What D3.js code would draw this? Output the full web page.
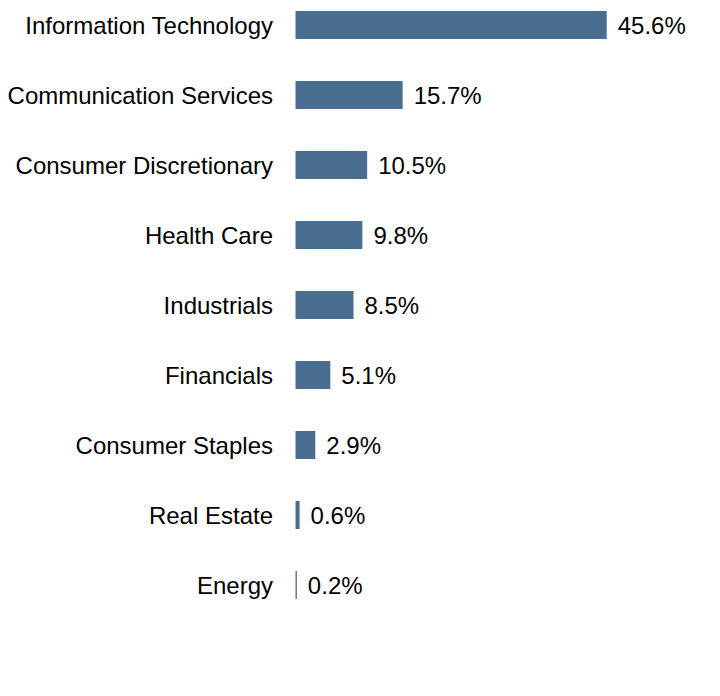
<!DOCTYPE html>
<html><head><meta charset="utf-8">
<script src="https://cdn.jsdelivr.net/npm/d3@7"></script>
<style>body{margin:0;background:#fff}svg{display:block}</style>
</head><body>
<script>
const categories = ["Information Technology","Communication Services","Consumer Discretionary","Health Care","Industrials","Financials","Consumer Staples","Real Estate","Energy"];
const values = [45.6,15.7,10.5,9.8,8.5,5.1,2.9,0.6,0.2];

const W = 720, H = 696;
const svg = d3.select("body").append("svg").attr("width", W).attr("height", H);
const x = d3.scaleLinear().domain([0, 45.6]).range([295.5, 606.7]);
const y = d3.scaleBand().domain(categories).range([-10, 620]).paddingInner(0.6).paddingOuter(0.3);
const font = "Liberation Sans, Arial, sans-serif";

const rows = svg.append("g").selectAll("g").data(categories).join("g")
  .attr("transform", d => `translate(0,${y(d)})`);
rows.append("rect").attr("x", x(0)).attr("y", 0)
  .attr("width", (d, i) => x(values[i]) - x(0)).attr("height", y.bandwidth()).attr("fill", "#4a6e92");
rows.append("text").attr("x", 273).attr("y", y.bandwidth() / 2).attr("dy", "0.39em").attr("text-anchor", "end")
  .attr("font-family", font).attr("font-size", 24).attr("fill", "#000").text(d => d);
rows.append("text").attr("x", (d, i) => x(values[i]) + 11).attr("y", y.bandwidth() / 2).attr("dy", "0.39em")
  .attr("font-family", font).attr("font-size", 24).attr("fill", "#000").text((d, i) => values[i].toFixed(1) + "%");
</script>
</body></html>
